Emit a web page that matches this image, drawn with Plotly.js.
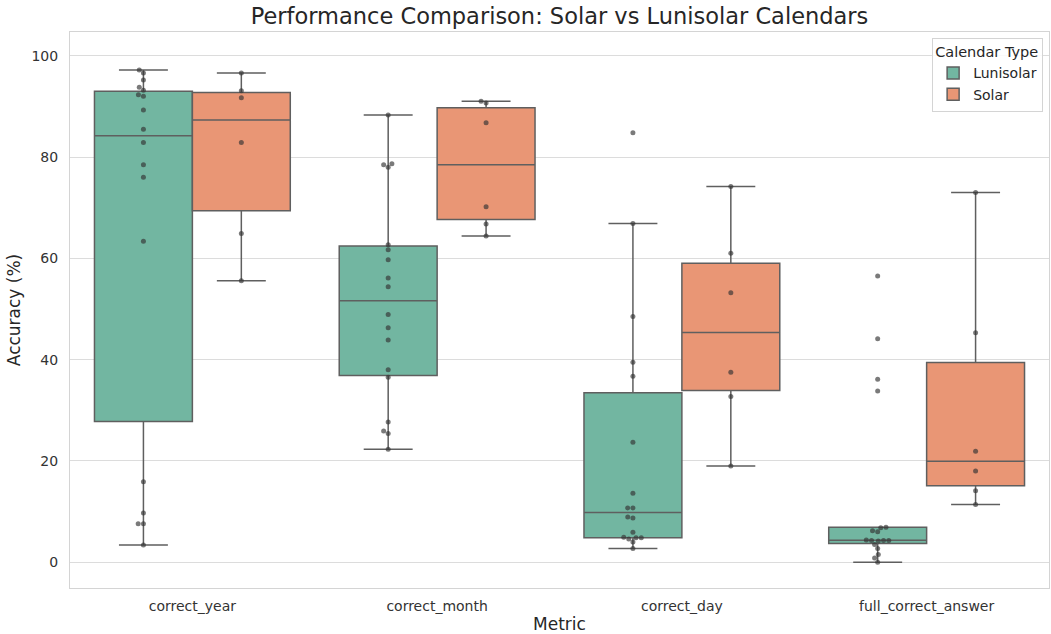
<!DOCTYPE html>
<html>
<head>
<meta charset="utf-8">
<script src="https://cdn.plot.ly/plotly-3.0.1.min.js"></script>
<style>html,body{margin:0;padding:0;background:#fff;}#chart{width:1051px;height:634px;}</style>
</head>
<body>
<div id="chart"></div>
<script>
// ---- Data ----
const categories = ['correct_year', 'correct_month', 'correct_day', 'full_correct_answer'];
const groups = ['Lunisolar', 'Solar'];

const lunisolarYear  = [97.2, 96.6, 95.2, 93.8, 93.2, 92.3, 92.0, 89.3, 85.5, 82.9, 78.5, 76.0, 63.4, 15.9, 9.7, 7.6, 7.6, 3.4];
const lunisolarMonth = [88.3, 78.7, 78.5, 78.0, 62.7, 61.7, 59.7, 56.1, 54.4, 48.9, 46.3, 43.9, 38.0, 36.5, 27.7, 25.9, 25.4, 22.3];
const lunisolarDay   = [84.8, 66.9, 48.5, 39.5, 36.7, 23.7, 13.6, 10.7, 10.7, 8.9, 8.7, 5.9, 4.9, 4.8, 4.8, 4.6, 4.0, 2.7];
const lunisolarFull  = [56.5, 44.1, 36.1, 33.8, 6.9, 6.8, 6.2, 6.0, 4.4, 4.3, 4.3, 4.3, 4.2, 3.5, 2.7, 1.5, 0.8, 0.0];

const solarYear  = [96.6, 93.1, 91.7, 82.9, 64.9, 55.6];
const solarMonth = [91.0, 90.7, 86.8, 70.2, 66.8, 64.4];
const solarDay   = [74.2, 61.0, 53.2, 37.5, 32.7, 19.0];
const solarFull  = [73.0, 45.3, 21.9, 18.0, 14.1, 11.4];

const seriesByGroup = {
  Lunisolar: [lunisolarYear, lunisolarMonth, lunisolarDay, lunisolarFull],
  Solar: [solarYear, solarMonth, solarDay, solarFull]
};

// ---- Styling ----
const fillColors = { Lunisolar: '#72b6a1', Solar: '#e99675' };
const lineColor = '#5f5f5f';
const W = 1051, H = 634;
const margin = { l: 70, r: 2, t: 32, b: 46 };
const xRange = [-0.5, 3.5];
const yRange = [-5.1, 104.7];
const groupOffset = { Lunisolar: -0.2, Solar: 0.2 };
const boxWidth = 0.4;
const markerSize = 5;

// numpy-like linear quantile
function quantile(sorted, p) {
  const pos = (sorted.length - 1) * p;
  const lo = Math.floor(pos), hi = Math.ceil(pos);
  return sorted[lo] + (sorted[hi] - sorted[lo]) * (pos - lo);
}
function boxStats(vals) {
  const s = vals.slice().sort((a, b) => a - b);
  const q1 = quantile(s, 0.25), med = quantile(s, 0.5), q3 = quantile(s, 0.75);
  const iqr = q3 - q1;
  const lo = s.filter(v => v >= q1 - 1.5 * iqr);
  const hi = s.filter(v => v <= q3 + 1.5 * iqr);
  return { q1, med, q3, lf: lo[0], uf: hi[hi.length - 1] };
}

// simple beeswarm (pixel space), returns x offsets in px
function swarmOffsets(vals, pxPerY, d) {
  const idx = vals.map((v, i) => i).sort((a, b) => vals[a] - vals[b]);
  const placed = [];
  const out = new Array(vals.length).fill(0);
  idx.forEach(i => {
    const y = vals[i] * pxPerY;
    const cands = [0];
    placed.forEach(p => {
      const dy = Math.abs(p.y - y);
      if (dy < d) {
        const dx = Math.sqrt(d * d - dy * dy) * 1.05;
        cands.push(p.x - dx, p.x + dx);
      }
    });
    cands.sort((a, b) => Math.abs(a) - Math.abs(b));
    let chosen = 0;
    for (const c of cands) {
      if (placed.every(p => Math.hypot(p.x - c, p.y - y) >= d - 1e-6)) { chosen = c; break; }
    }
    placed.push({ x: chosen, y });
    out[i] = chosen;
  });
  return out;
}

const plotW = W - margin.l - margin.r;
const plotH = H - margin.t - margin.b;
const pxPerX = plotW / (xRange[1] - xRange[0]);
const pxPerY = plotH / (yRange[1] - yRange[0]);

const traces = [];
groups.forEach(g => {
  const st = seriesByGroup[g].map(boxStats);
  traces.push({
    type: 'box',
    name: g,
    x: categories.map((c, i) => i + groupOffset[g]),
    q1: st.map(s => s.q1),
    median: st.map(s => s.med),
    q3: st.map(s => s.q3),
    lowerfence: st.map(s => s.lf),
    upperfence: st.map(s => s.uf),
    width: boxWidth,
    whiskerwidth: 0.5,
    fillcolor: fillColors[g],
    line: { color: lineColor, width: 1.5 },
    boxpoints: false,
    hoverinfo: 'y'
  });
});
groups.forEach(g => {
  const xs = [], ys = [];
  seriesByGroup[g].forEach((vals, i) => {
    const offs = swarmOffsets(vals, pxPerY, markerSize);
    vals.forEach((v, k) => {
      xs.push(i + groupOffset[g] + offs[k] / pxPerX);
      ys.push(v);
    });
  });
  traces.push({
    type: 'scatter',
    mode: 'markers',
    x: xs, y: ys,
    showlegend: false,
    marker: { size: markerSize, color: 'rgba(50,50,50,0.65)', line: { width: 0 } },
    hoverinfo: 'y'
  });
});

const layout = {
  width: W, height: H,
  margin: margin,
  paper_bgcolor: '#ffffff',
  plot_bgcolor: '#ffffff',
  font: { family: 'DejaVu Sans, sans-serif', color: '#262626', size: 14 },
  title: {
    text: 'Performance Comparison: Solar vs Lunisolar Calendars',
    font: { size: 22.5, color: '#262626' },
    x: 0.5, xref: 'paper', xanchor: 'center',
    y: 1 - 16 / H, yref: 'container', yanchor: 'middle'
  },
  boxmode: 'overlay',
  showlegend: true,
  legend: {
    x: 0.994, xanchor: 'right', y: 0.99, yanchor: 'top',
    bgcolor: 'rgba(255,255,255,0.85)',
    bordercolor: '#d4d4d4', borderwidth: 1,
    title: { text: 'Calendar Type', font: { size: 14.5, color: '#262626' } },
    font: { size: 14, color: '#262626' },
    tracegroupgap: 2
  },
  xaxis: {
    range: xRange,
    tickmode: 'array',
    tickvals: categories.map((c, i) => i),
    ticktext: categories,
    showgrid: false,
    zeroline: false,
    showline: true, mirror: true, linecolor: '#d4d4d4', linewidth: 1,
    ticks: 'outside', ticklen: 5, tickcolor: 'rgba(0,0,0,0)',
    tickfont: { size: 14, color: '#333333' },
    title: { text: 'Metric', font: { size: 17, color: '#262626' }, standoff: 7 }
  },
  yaxis: {
    range: yRange,
    tickmode: 'linear', tick0: 0, dtick: 20,
    showgrid: true, gridcolor: '#dcdcdc', gridwidth: 1,
    zeroline: false,
    showline: true, mirror: true, linecolor: '#d4d4d4', linewidth: 1,
    ticks: 'outside', ticklen: 8, tickcolor: 'rgba(0,0,0,0)',
    tickfont: { size: 14, color: '#333333' },
    title: { text: 'Accuracy (%)', font: { size: 17, color: '#262626' }, standoff: 6 }
  }
};

Plotly.newPlot('chart', traces, layout, { displayModeBar: false, staticPlot: true });
</script>
</body>
</html>
